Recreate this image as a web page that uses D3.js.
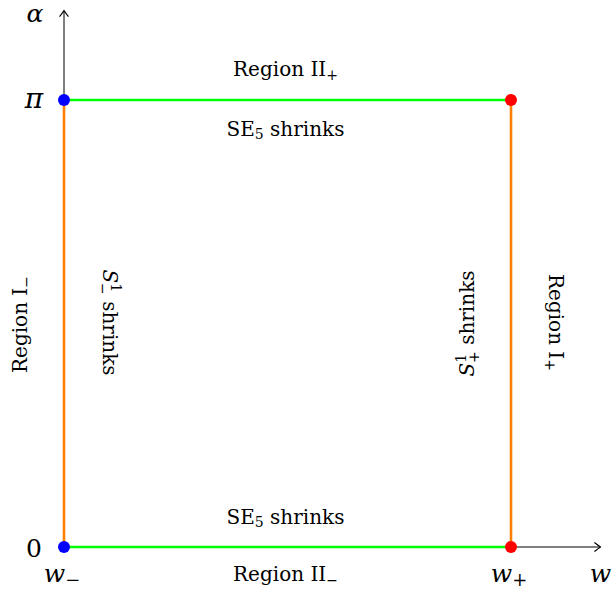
<!DOCTYPE html>
<html>
<head>
<meta charset="utf-8">
<script src="https://cdn.jsdelivr.net/npm/d3@7"></script>
<style>
  body { margin: 0; background: #fff; }
  svg { display: block; font-family: "DejaVu Serif", "Liberation Serif", serif; }
</style>
</head>
<body>
<div id="chart"></div>
<script>
// w values of the two walls (w-, w+), alpha values of the two edges
const wValues = [0, 1];
const wLabels = ["−", "+"];
const alphaValues = [0, Math.PI];
const alphaLabels = ["0", "π"];
// axis extent (in data units)
const wMax = 1.2;
const alphaMax = 1.2 * Math.PI;

// edges of the rectangle: [w0, a0, w1, a1, kind]
const edges = [
  [0, 0, 1, 0, "II"],
  [0, Math.PI, 1, Math.PI, "II"],
  [0, 0, 0, Math.PI, "I"],
  [1, 0, 1, Math.PI, "I"]
];
// corner dots: [w, alpha, side]
const corners = [
  [0, 0, "-"], [0, Math.PI, "-"],
  [1, 0, "+"], [1, Math.PI, "+"]
];

const width = 612, height = 591;
const x = d3.scaleLinear().domain([0, 1]).range([64, 511]);
const y = d3.scaleLinear().domain([0, Math.PI]).range([547, 100]);
const edgeColor = d3.scaleOrdinal(["II", "I"], ["#00ff00", "#ff8000"]);
const dotColor = d3.scaleOrdinal(["-", "+"], ["#0000ff", "#ff0000"]);

const svg = d3.select("#chart").append("svg")
  .attr("width", width).attr("height", height);

svg.append("defs").append("marker")
  .attr("id", "tip")
  .attr("viewBox", "-8 -6 10 12")
  .attr("markerWidth", 10).attr("markerHeight", 12)
  .attr("markerUnits", "userSpaceOnUse")
  .attr("orient", "auto")
  .append("path")
  .attr("d", "M-6,-4.5 Q-1.5,-1 0,0 Q-1.5,1 -6,4.5")
  .attr("fill", "none").attr("stroke", "#000").attr("stroke-width", 1.1);

// axes
svg.append("line")
  .attr("x1", x(0)).attr("y1", y(0)).attr("x2", x(wMax)).attr("y2", y(0))
  .attr("stroke", "#000").attr("stroke-width", 1).attr("marker-end", "url(#tip)");
svg.append("line")
  .attr("x1", x(0)).attr("y1", y(0)).attr("x2", x(0)).attr("y2", y(alphaMax))
  .attr("stroke", "#000").attr("stroke-width", 1).attr("marker-end", "url(#tip)");

// rectangle edges
svg.selectAll(".edge").data(edges).join("line")
  .attr("class", "edge")
  .attr("x1", d => x(d[0])).attr("y1", d => y(d[1]))
  .attr("x2", d => x(d[2])).attr("y2", d => y(d[3]))
  .attr("stroke", d => edgeColor(d[4])).attr("stroke-width", 2.6);

svg.selectAll(".dot").data(corners).join("circle")
  .attr("class", "dot")
  .attr("cx", d => x(d[0])).attr("cy", d => y(d[1])).attr("r", 6)
  .attr("fill", d => dotColor(d[2]));

// axis labels
const big = 25;
svg.selectAll(".alab").data(alphaValues).join("text")
  .attr("class", "alab")
  .attr("x", 34).attr("y", (d, i) => y(d) + (i ? 8 : 10))
  .attr("text-anchor", "middle").attr("font-size", (d, i) => i ? 28 : big)
  .attr("font-style", (d, i) => i ? "italic" : null)
  .text((d, i) => alphaLabels[i]);

svg.append("text").attr("x", 35).attr("y", 22)
  .attr("text-anchor", "middle").attr("font-size", big).attr("font-style", "italic")
  .text("α");

const wl = svg.selectAll(".wlab").data(wValues).join("text")
  .attr("class", "wlab")
  .attr("x", d => x(d) - 2).attr("y", 582)
  .attr("text-anchor", "middle").attr("font-size", big);
wl.append("tspan").attr("font-style", "italic").text("w");
wl.append("tspan").attr("font-size", 18).attr("dy", 4).text((d, i) => wLabels[i]);

svg.append("text").attr("x", x(wMax)).attr("y", 582)
  .attr("text-anchor", "middle").attr("font-size", big).attr("font-style", "italic")
  .text("w");

// region and shrink labels
const fs = 20;
const ss = 14;
function sub(t, main, s, italic) {
  t.append("tspan").attr("font-style", italic ? "italic" : null).text(main);
  t.append("tspan").attr("font-size", ss).attr("dy", 4).text(s);
}
function se5(t) {
  t.append("tspan").text("SE");
  t.append("tspan").attr("font-size", ss).attr("dy", 3).text("5");
  t.append("tspan").attr("dy", -3).text(" shrinks");
}
function sShrinks(t, s) {
  t.append("tspan").attr("font-style", "italic").text("S");
  t.append("tspan").attr("font-size", ss).attr("dy", -8).text("1");
  t.append("tspan").attr("font-size", ss).attr("dx", -9).attr("dy", 13).text(s);
  t.append("tspan").attr("dy", -5).text(" shrinks");
}
const midW = x(0.5) - 2;

let t = svg.append("text").attr("x", midW).attr("y", 76).attr("text-anchor", "middle").attr("font-size", fs);
sub(t, "Region II", "+");
t = svg.append("text").attr("x", midW).attr("y", 136).attr("text-anchor", "middle").attr("font-size", fs);
se5(t);

t = svg.append("text").attr("x", midW).attr("y", 524).attr("text-anchor", "middle").attr("font-size", fs);
se5(t);
t = svg.append("text").attr("x", midW).attr("y", 581).attr("text-anchor", "middle").attr("font-size", fs);
sub(t, "Region II", "−");

// vertical labels
const midA = y(Math.PI / 2) + 1;
t = svg.append("text").attr("transform", `translate(27,${midA}) rotate(-90)`)
  .attr("text-anchor", "middle").attr("font-size", fs);
sub(t, "Region I", "−");

t = svg.append("text").attr("transform", `translate(103,${midA - 2}) rotate(90)`)
  .attr("text-anchor", "middle").attr("font-size", fs);
sShrinks(t, "−");

t = svg.append("text").attr("transform", `translate(474,${midA - 1}) rotate(-90)`)
  .attr("text-anchor", "middle").attr("font-size", fs);
sShrinks(t, "+");

t = svg.append("text").attr("transform", `translate(549,${midA - 2}) rotate(90)`)
  .attr("text-anchor", "middle").attr("font-size", fs);
sub(t, "Region I", "+");
</script>
</body>
</html>
